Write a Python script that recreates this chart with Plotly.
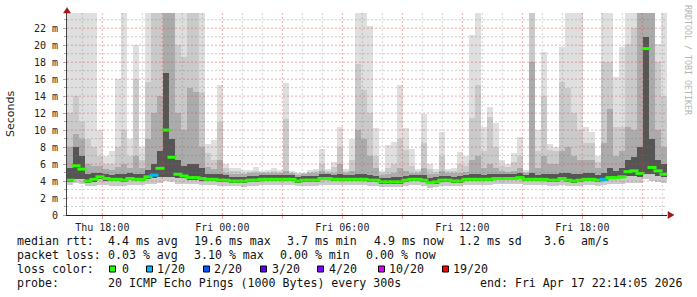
import plotly.graph_objects as go
from datetime import datetime, timedelta

# ---------------- data (values in milliseconds) ----------------
start_time = datetime(2026, 4, 16, 16, 14, 5)
end_time = datetime(2026, 4, 17, 22, 14, 5)
step_minutes = 18

median_rtt = [4.1, 5.8, 5.4, 4.0, 4.2, 4.5, 4.3, 4.2, 4.2, 4.1,
              4.3, 4.2, 4.2, 4.5, 4.7, 5.5, 10.0, 6.8, 4.8, 4.6,
              4.4, 4.4, 4.3, 4.2, 4.2, 4.1, 4.1, 4.0, 4.0, 4.0,
              4.1, 4.1, 4.2, 4.2, 4.2, 4.2, 4.2, 4.2, 4.0, 4.1,
              4.1, 4.1, 4.3, 4.3, 4.2, 4.2, 4.2, 4.2, 4.2, 4.2,
              4.1, 4.1, 3.9, 3.9, 3.9, 3.9, 4.1, 4.2, 4.2, 4.1,
              3.8, 3.9, 4.1, 4.1, 4.0, 4.0, 4.2, 4.2, 4.2, 4.2,
              4.2, 4.3, 4.3, 4.3, 4.3, 4.4, 4.2, 4.2, 4.2, 4.2,
              4.1, 4.1, 4.3, 4.1, 4.0, 4.1, 4.2, 4.2, 4.1, 4.2,
              4.4, 4.4, 4.5, 5.1, 5.2, 4.9, 19.6, 5.6, 5.2, 4.8]

loss_count = [0] * 14 + [1] + [0] * 74 + [1] + [0] * 10

smoke_min = [3.5, 3.8, 3.7, 3.4, 3.4, 3.5, 3.5, 3.4, 3.4, 3.4,
             3.5, 3.5, 3.5, 3.6, 3.7, 3.8, 4.0, 3.9, 3.7, 3.6,
             3.6, 3.6, 3.5, 3.5, 3.5, 3.4, 3.4, 3.4, 3.4, 3.3,
             3.4, 3.4, 3.5, 3.5, 3.5, 3.5, 3.5, 3.5, 3.4, 3.4,
             3.4, 3.4, 3.5, 3.5, 3.5, 3.5, 3.5, 3.5, 3.5, 3.5,
             3.4, 3.4, 3.3, 3.3, 3.3, 3.3, 3.4, 3.5, 3.5, 3.4,
             3.2, 3.3, 3.4, 3.4, 3.4, 3.4, 3.5, 3.5, 3.5, 3.5,
             3.5, 3.6, 3.6, 3.6, 3.6, 3.6, 3.5, 3.5, 3.5, 3.5,
             3.4, 3.4, 3.5, 3.4, 3.4, 3.4, 3.5, 3.5, 3.4, 3.5,
             3.6, 3.6, 3.6, 3.8, 3.8, 3.8, 4.2, 4.0, 3.9, 3.8]

core_low = [3.9, 4.2, 4.2, 3.8, 3.9, 4.2, 4.0, 4.0, 4.0, 3.9,
            4.1, 4.0, 4.0, 4.2, 4.4, 4.5, 4.5, 4.5, 4.4, 4.3,
            4.1, 4.1, 4.0, 4.0, 4.0, 3.9, 3.9, 3.8, 3.8, 3.8,
            3.9, 3.9, 4.0, 4.0, 4.0, 4.0, 4.0, 4.0, 3.8, 3.9,
            3.9, 3.9, 4.1, 4.1, 4.0, 4.0, 4.0, 4.0, 4.0, 4.0,
            3.9, 3.9, 3.7, 3.7, 3.7, 3.7, 3.9, 4.0, 4.0, 3.9,
            3.6, 3.7, 3.9, 3.9, 3.8, 3.8, 4.0, 4.0, 4.0, 4.0,
            4.0, 4.1, 4.1, 4.1, 4.1, 4.2, 4.0, 4.0, 4.0, 4.0,
            3.9, 3.9, 4.1, 3.9, 3.8, 3.9, 4.0, 4.0, 3.9, 4.0,
            4.2, 4.2, 4.3, 4.6, 4.6, 4.5, 4.8, 4.8, 4.6, 4.5]

core_high = [5.5, 8.0, 7.0, 4.8, 4.9, 5.0, 4.8, 4.7, 4.8, 4.8,
             4.9, 4.8, 4.8, 5.3, 6.0, 7.5, 16.7, 9.0, 6.5, 5.8,
             6.0, 6.0, 5.5, 4.8, 4.8, 4.8, 4.7, 4.5, 4.5, 4.5,
             4.6, 4.6, 4.7, 4.7, 4.7, 4.7, 4.7, 4.7, 4.5, 4.6,
             4.6, 4.6, 4.8, 4.8, 4.7, 4.8, 4.7, 4.7, 4.8, 4.8,
             4.7, 4.6, 4.4, 4.4, 4.5, 4.5, 4.6, 4.7, 4.7, 4.7,
             4.4, 4.5, 4.6, 4.6, 4.5, 4.6, 4.7, 4.8, 4.8, 4.7,
             4.8, 4.8, 4.8, 4.8, 4.8, 4.9, 4.7, 5.0, 4.7, 4.8,
             4.8, 4.8, 5.0, 5.0, 4.8, 4.8, 4.9, 4.9, 4.7, 5.0,
             5.5, 5.2, 5.5, 6.5, 6.8, 8.0, 21.0, 9.0, 6.5, 6.0]

mid_high = [8.0, 9.5, 9.0, 6.0, 5.8, 5.8, 5.4, 5.3, 5.6, 6.0,
            5.5, 7.0, 5.5, 9.0, 12.0, 14.0, 23.8, 23.8, 12.0, 10.0,
            15.0, 14.5, 8.0, 5.6, 5.4, 6.5, 5.0, 4.8, 4.8, 4.8,
            4.9, 4.9, 4.9, 4.9, 5.0, 4.9, 5.2, 4.9, 4.7, 4.8,
            4.9, 4.9, 5.2, 5.0, 5.0, 6.0, 5.0, 5.2, 10.0, 9.0,
            7.0, 5.5, 4.7, 4.8, 5.0, 5.5, 5.2, 5.0, 4.9, 5.5,
            4.8, 4.8, 5.2, 4.9, 4.9, 5.0, 5.1, 6.5, 7.0, 5.5,
            6.0, 5.5, 5.2, 5.1, 5.2, 5.5, 4.9, 18.0, 5.5, 7.0,
            6.0, 6.0, 7.5, 8.0, 7.0, 6.5, 6.5, 6.5, 5.5, 8.5,
            12.5, 7.0, 7.5, 10.4, 10.0, 23.8, 23.8, 23.8, 10.0, 8.0]

light_high = [12.0, 14.0, 11.0, 9.0, 8.0, 7.0, 6.0, 6.0, 8.0, 10.0,
              7.0, 16.0, 6.5, 15.7, 23.8, 23.8, 23.8, 23.8, 20.0, 18.6,
              23.8, 23.8, 14.5, 7.3, 6.5, 11.0, 5.5, 5.2, 5.2, 5.0,
              5.1, 5.2, 5.1, 5.1, 5.2, 5.1, 11.3, 5.0, 4.9, 4.9,
              5.1, 5.2, 6.0, 5.2, 5.6, 8.0, 5.2, 6.5, 17.8, 14.7,
              12.0, 7.0, 5.0, 5.5, 6.0, 9.0, 7.6, 5.8, 5.2, 8.5,
              5.4, 5.1, 7.0, 5.2, 5.2, 6.0, 5.8, 11.4, 15.3, 7.5,
              11.5, 8.0, 5.8, 5.6, 6.2, 7.0, 5.1, 23.8, 7.5, 14.0,
              7.6, 7.5, 15.7, 15.0, 12.0, 10.0, 8.5, 8.5, 6.2, 18.0,
              18.0, 10.4, 10.4, 20.2, 22.0, 23.8, 23.8, 23.8, 18.0, 14.0]

smoke_max = [23.8, 23.8, 23.8, 23.8, 23.8, 10.0, 7.0, 7.5, 16.0, 23.8,
             9.0, 20.0, 8.0, 23.8, 23.8, 23.8, 23.8, 23.8, 23.8, 23.8,
             23.8, 23.8, 23.8, 8.4, 8.8, 15.3, 6.0, 5.5, 5.5, 5.3,
             5.3, 5.6, 5.2, 5.3, 5.5, 5.3, 15.6, 5.2, 5.0, 5.0,
             5.3, 5.4, 7.8, 5.4, 6.3, 10.4, 5.4, 9.0, 23.8, 23.8,
             22.3, 10.2, 5.2, 8.2, 8.6, 15.3, 10.2, 7.8, 5.4, 11.9,
             6.0, 5.4, 9.8, 5.4, 5.5, 7.4, 7.0, 21.2, 23.8, 10.4,
             12.7, 10.8, 6.5, 6.0, 7.3, 9.2, 5.3, 23.8, 10.0, 19.2,
             8.4, 8.0, 19.8, 23.8, 23.8, 23.8, 10.4, 9.8, 7.0, 23.8,
             23.8, 16.3, 19.8, 23.8, 23.8, 23.8, 23.8, 23.8, 20.2, 23.8]

y_tick_values = [0, 2, 4, 6, 8, 10, 12, 14, 16, 18, 20, 22]
y_tick_labels = ["0", "2 m", "4 m", "6 m", "8 m", "10 m", "12 m", "14 m",
                 "16 m", "18 m", "20 m", "22 m"]
y_minor_values = [1, 3, 5, 7, 9, 11, 13, 15, 17, 19, 21, 23]

x_tick_times = [datetime(2026, 4, 16, 18) + timedelta(hours=3 * k) for k in range(10)]
x_tick_labels = ["Thu 18:00", "", "Fri 00:00", "", "Fri 06:00", "",
                 "Fri 12:00", "", "Fri 18:00", ""]
x_minor_times = [datetime(2026, 4, 16, 17) + timedelta(hours=h) for h in range(30)
                 if (h + 17) % 3 != 0]

loss_levels = ["0", "1/20", "2/20", "3/20", "4/20", "10/20", "19/20"]
loss_level_colors = ["#26ff00", "#00b8ff", "#0059ff", "#5e00ff", "#7e00ff", "#dd00ff", "#ff0000"]

rtt_items = ["4.4 ms avg", "19.6 ms max", "3.7 ms min", "4.9 ms now", "1.2 ms sd", "3.6", "am/s"]
loss_items = ["0.03 % avg", "3.10 % max", "0.00 % min", "0.00 % now"]
probe_text = "20 ICMP Echo Pings (1000 Bytes) every 300s"
end_text = "end: Fri Apr 17 22:14:05 2026"

# ---------------- figure ----------------
W, H = 697, 297
ML, MR, MT, MB = 67, 30, 13, 82
PW, PH = W - ML - MR, H - MT - MB


def px_to_paper(px, py):
    return (px - ML) / PW, (H - MB - py) / PH


times = [start_time + timedelta(minutes=step_minutes * (i + 0.5)) for i in range(len(median_rtt))]
bar_width_ms = step_minutes * 60 * 1000

fig = go.Figure()


def band(low, high, color):
    fig.add_trace(go.Bar(
        x=times, base=low, y=[h - l for h, l in zip(high, low)],
        width=bar_width_ms, marker=dict(color=color, line=dict(width=0)),
        hoverinfo="skip", showlegend=False))


band(smoke_min, smoke_max, "#dfdfdf")
band(smoke_min, light_high, "#cacaca")
band(core_low, mid_high, "#ababab")
band(core_low, core_high, "#555555")

fig.add_trace(go.Scatter(
    x=times, y=median_rtt, mode="markers",
    marker=dict(symbol="line-ew", size=6.5,
                line=dict(width=3, color=[loss_level_colors[c] for c in loss_count])),
    hoverinfo="skip", showlegend=False))

mono = "DejaVu Sans Mono"
fig.update_layout(
    width=W, height=H, margin=dict(l=ML, r=MR, t=MT, b=MB, pad=0),
    paper_bgcolor="white", plot_bgcolor="white",
    barmode="overlay", bargap=0, showlegend=False,
    xaxis=dict(
        type="date", range=[start_time, end_time],
        tickmode="array", tickvals=x_tick_times, ticktext=x_tick_labels,
        showgrid=False,
        showline=True, linecolor="#222", linewidth=1,
        ticks="outside", ticklen=3, tickcolor="#e8a4a4",
        tickfont=dict(family=mono, size=10, color="#222"),
        zeroline=False, fixedrange=True),
    yaxis=dict(
        range=[0, (H - MB - MT) / 8.49], tickmode="array",
        tickvals=y_tick_values, ticktext=y_tick_labels,
        showgrid=False,
        minor=dict(tickmode="array", tickvals=y_minor_values, ticks="outside", ticklen=2,
                   tickcolor="#aaaaaa", showgrid=False),
        showline=True, linecolor="#444", linewidth=1,
        ticks="outside", ticklen=3, tickcolor="#aaaaaa", ticklabelstandoff=3,
        tickfont=dict(family=mono, size=10, color="#222"),
        zeroline=False, fixedrange=True),
)

shapes = []
# grid drawn above the smoke, as rrdtool does
major_grid = dict(color="rgba(215,70,70,0.45)", width=1, dash="2px,2px")
minor_grid = dict(color="rgba(120,120,120,0.35)", width=1, dash="2px,2px")
for t in x_minor_times:
    shapes.append(dict(type="line", xref="x", yref="paper", x0=t, x1=t, y0=0, y1=1,
                       line=minor_grid, layer="above"))
for t in x_tick_times:
    shapes.append(dict(type="line", xref="x", yref="paper", x0=t, x1=t, y0=0, y1=1,
                       line=major_grid, layer="above"))
for v in y_minor_values:
    shapes.append(dict(type="line", xref="paper", yref="y", x0=0, x1=1, y0=v, y1=v,
                       line=minor_grid, layer="above"))
for v in y_tick_values[1:]:
    shapes.append(dict(type="line", xref="paper", yref="y", x0=0, x1=1, y0=v, y1=v,
                       line=major_grid, layer="above"))

annotations = []


def text_at(px, py, txt, size=11.6, color="#111", family=mono, angle=0, anchor="left"):
    x, y = px_to_paper(px, py)
    annotations.append(dict(x=x, y=y, xref="paper", yref="paper", text=txt.replace(" ", "\u00a0"),
                            showarrow=False, xanchor=anchor, yanchor="middle",
                            textangle=angle, borderpad=0,
                            font=dict(family=family, size=size, color=color)))


# axis title and credit
text_at(10, 114, "Seconds", size=11, family="DejaVu Sans", angle=-90, anchor="center", color="#222")
text_at(688, 60, "RRDTOOL / TOBI OETIKER", size=8.3, angle=90, anchor="center", color="#b4b4b4")

# legend rows
row_y = [241, 255, 269, 283]
text_at(16, row_y[0], "median rtt:")
for xp, t in zip([107, 192.5, 286, 372.5, 458, 543, 580], rtt_items):
    text_at(xp, row_y[0], t)
text_at(16, row_y[1], "packet loss:")
for xp, t in zip([107, 192.5, 279, 365], loss_items):
    text_at(xp, row_y[1], t)
text_at(16, row_y[2], "loss color:")
square_x = [109, 146, 203, 260, 317, 378, 442]
label_x = [121, 156, 213, 270.5, 327.5, 387.5, 451.5]
for sx, lx, lab, col in zip(square_x, label_x, loss_levels, loss_level_colors):
    x0, y0 = px_to_paper(sx + 0.5, row_y[2] + 3)
    x1, y1 = px_to_paper(sx + 6.5, row_y[2] - 3)
    shapes.append(dict(type="rect", xref="paper", yref="paper", x0=x0, x1=x1, y0=y0, y1=y1,
                       fillcolor=col, line=dict(color="#000", width=1)))
    text_at(lx, row_y[2], lab)
text_at(16, row_y[3], "probe:")
text_at(107, row_y[3], probe_text)
text_at(479, row_y[3], end_text)


# axis arrows
def tri(points, color="#a01818"):
    pts = [px_to_paper(a, b) for a, b in points]
    path = "M {} {} L {} {} L {} {} Z".format(pts[0][0], pts[0][1], pts[1][0], pts[1][1], pts[2][0], pts[2][1])
    shapes.append(dict(type="path", xref="paper", yref="paper", path=path,
                       fillcolor=color, line=dict(color=color, width=0.5)))


tri([(63.5, 13), (70.5, 13), (67, 7.5)])
tri([(668, 211.5), (668, 218.5), (674, 215)])

fig.update_layout(annotations=annotations, shapes=shapes)
fig.write_html("out.html")
